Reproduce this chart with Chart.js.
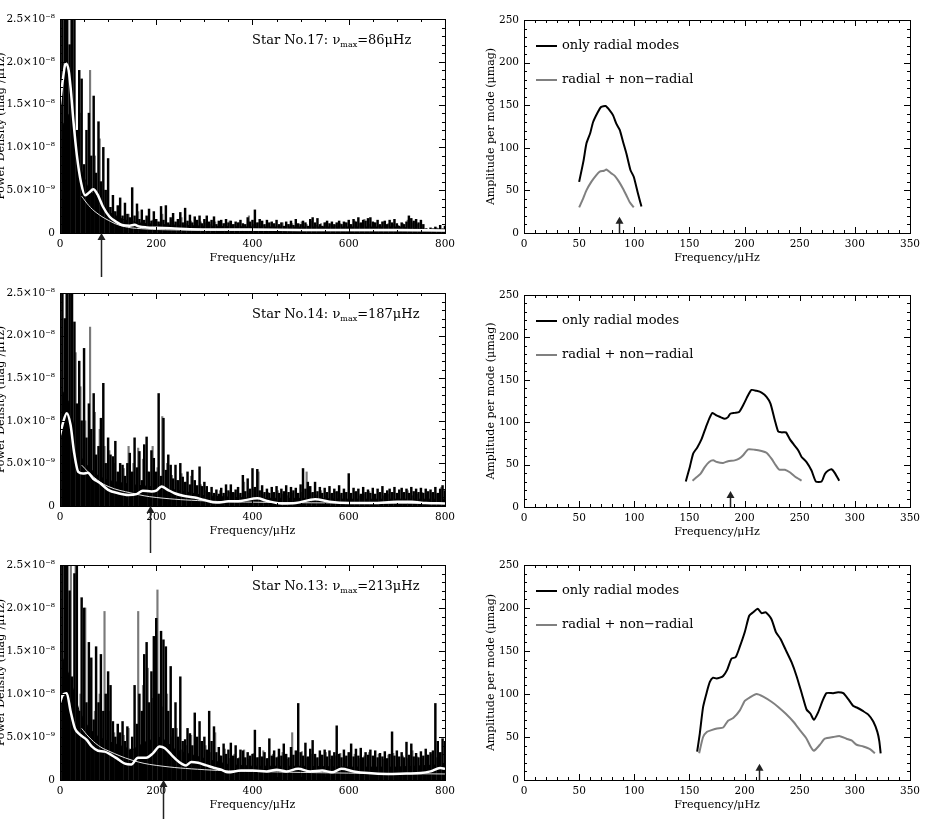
<!DOCTYPE html>
<html>
<head>
<meta charset="utf-8">
<script src="https://cdn.jsdelivr.net/npm/chart.js@4/dist/chart.umd.min.js"></script>
<style>
  html, body { margin: 0; background: #fff; width: 926px; height: 819px; overflow: hidden; position: relative; }
  canvas { position: absolute; }
</style>
</head>
<body>
<canvas id="spec17"></canvas>
<canvas id="spec14"></canvas>
<canvas id="spec13"></canvas>
<canvas id="amp17"></canvas>
<canvas id="amp14"></canvas>
<canvas id="amp13"></canvas>
<script>
// power density in units of 1e-9 mag^2/uHz
const spikeFreq = Array.from({ length: 161 }, (_, i) => i * 5);
const greyFreq = Array.from({ length: 80 }, (_, i) => 2.5 + i * 10);

const star17Black = [
  16, 30, 26, 30, 22, 30, 30, 12, 19, 18,
  8, 12, 14, 9, 16, 7, 13, 6, 10, 5,
  8.7, 3, 4.4, 2.5, 3.2, 4.1, 2, 3.5, 2.2, 1.8,
  5.3, 2, 3.4, 1.6, 2.7, 1.5, 2, 2.8, 1.4, 2.5,
  1.6, 1.3, 3.1, 1.5, 3.2, 1.2, 1.8, 2.3, 1.3, 1.6,
  2.4, 1.2, 2.9, 1.4, 2.1, 1.2, 1.9, 1.5, 2, 1.1,
  1.6, 2, 1.3, 1.5, 1.9, 1, 1.4, 1.5, 1.1, 1.6,
  1.2, 1.4, 1, 1.3, 1.2, 1.5, 1.1, 1, 1.8, 1.3,
  1.5, 2.7, 1.2, 1.6, 1.4, 1, 1.5, 1.2, 1.3, 1.1,
  1.5, 1, 1.2, 0.8, 1.3, 1, 1.4, 0.9, 1.6, 1.1,
  1, 1.4, 1.2, 0.8, 1.6, 1.8, 1.2, 1.7, 1, 0.8,
  1.2, 1.4, 1.1, 1.3, 1, 1.2, 1.4, 1, 1.3, 1.2,
  1.5, 1, 1.6, 1.3, 1.8, 1.2, 1.5, 1.4, 1.7, 1.8,
  1.3, 1.2, 1.5, 1, 1.3, 1.4, 1, 1.5, 1.2, 1.6,
  1.1, 0.8, 1.2, 1, 1.3, 2, 1.7, 1.4, 1.6, 1.2,
  1.5, 1, 0.5, 0.4, 0.6, 0.5, 0.7, 0.5, 0.9, 0.5,
  0.8
];
const star17Grey = [
  28, 30, 25, 10, 14, 6, 19, 9, 11, 5,
  3, 2.5, 2, 1.5, 2.2, 1.4, 2.5, 1.2, 1.8, 1.5,
  1.3, 2.2, 1, 1.5, 1.2, 1.8, 1.1, 1.4, 1, 1.3,
  1.2, 1, 1.3, 0.9, 1.1, 1.4, 1, 1.2, 0.9, 2,
  1, 1.2, 0.9, 1.1, 1, 0.8, 1.2, 1, 1.1, 0.9,
  1.3, 1, 1.4, 0.9, 1.1, 1.2, 1, 0.9, 1.1, 1.2,
  1, 1.4, 1.1, 1.6, 1, 1.2, 0.9, 1.3, 1.1, 1,
  0.9, 1.1, 1.5, 1.2, 1, 0.4, 0.5, 0.3, 0.6, 0.4
];
const star17Floor = [[0, 12], [20, 14], [40, 8], [60, 5], [80, 4], [100, 2.5], [130, 1.6], [160, 1.2],
  [200, 1], [300, 0.8], [400, 0.7], [500, 0.7], [600, 0.7], [700, 0.7], [760, 0.4], [800, 0.4]];
const star17Smooth = [[0, 15], [5, 17.5], [12, 19.8], [18, 19], [22, 17], [28, 13], [35, 9.1], [44, 5.8],
  [52, 4.4], [60, 4.7], [69, 5.1], [78, 4.5], [89, 3.1], [103, 1.9], [117, 1.3], [131, 0.9], [145, 0.85],
  [155, 0.95], [165, 0.75], [180, 0.65], [200, 0.6], [230, 0.55], [270, 0.45], [320, 0.4], [400, 0.4],
  [500, 0.35], [600, 0.35], [700, 0.35], [800, 0.3]];
const star17Background = [[45, 4.3], [60, 3.2], [75, 2.4], [100, 1.5], [130, 0.8], [170, 0.5], [250, 0.35],
  [400, 0.3], [800, 0.25]];

const star14Black = [
  30, 30, 22, 30, 28, 30, 21.6, 12, 17, 10,
  18.5, 8, 12, 9, 13.2, 6, 7, 10.3, 14.4, 5,
  8, 6, 5.8, 7.6, 4, 5, 4.8, 3.5, 5, 6.2,
  4, 8, 4.5, 6.4, 3, 7.2, 8.1, 4, 6.5, 5.6,
  4, 13.2, 3.5, 10.3, 4.2, 6, 4.8, 3.2, 4.8, 3,
  5, 3.4, 2.8, 4, 2.5, 4.2, 3, 2.4, 4.6, 2.3,
  2.8, 2.3, 1.6, 2.2, 1.5, 1.9, 1.4, 2.1, 1.5, 2.5,
  1.8, 2.5, 1.6, 1.9, 2.2, 1.5, 3.6, 1.7, 3.2, 2,
  4.4, 2.2, 4.3, 1.8, 2.4, 1.6, 2, 1.5, 2.2, 1.6,
  2.3, 1.5, 2, 1.7, 2.4, 1.6, 2.2, 1.8, 2.1, 1.5,
  2.5, 4.4, 2, 2.8, 2.3, 1.6, 2.8, 1.7, 2.2, 1.5,
  2.1, 1.6, 2.3, 1.5, 2, 1.7, 2.4, 1.5, 2, 1.6,
  3.8, 1.5, 2.1, 1.7, 2, 1.4, 2.2, 1.6, 1.9, 1.5,
  2.1, 1.4, 2, 1.6, 2.3, 1.5, 1.8, 2, 1.6, 2.2,
  1.5, 1.9, 2.1, 1.6, 2, 1.5, 2.2, 1.7, 2, 1.6,
  2.1, 1.5, 2, 1.7, 1.9, 1.6, 2.2, 1.5, 2, 2.4,
  1.8
];
const star14Grey = [
  30, 30, 25, 18, 14, 10, 21, 11, 9, 7,
  6.5, 5, 3.5, 4.4, 7, 5, 6.8, 5.5, 4, 7,
  4.5, 10.5, 5, 3.6, 3, 3.8, 2.8, 3.5, 2.2, 2.5,
  1.8, 1.5, 1.3, 1.8, 1.2, 1.6, 1.5, 1.3, 2.8, 1.5,
  2, 4, 1.4, 1.6, 1.3, 1.8, 1.4, 1.2, 1.5, 1.3,
  1.6, 4, 1.5, 1.3, 1.8, 1.2, 1.4, 1.6, 1.3, 1.5,
  1.3, 1.6, 1.2, 1.4, 1.7, 1.3, 1.5, 1.2, 1.4, 1.6,
  1.3, 1.5, 1.8, 1.2, 1.4, 1.6, 1.3, 1.5, 1.4, 2.2
];
const star14Floor = [[0, 14], [20, 12], [40, 6], [60, 4.5], [80, 3.5], [100, 3], [150, 2.5], [200, 2.2],
  [250, 1.8], [300, 1.2], [400, 0.9], [500, 0.9], [600, 0.8], [700, 0.8], [800, 0.8]];
const star14Smooth = [[0, 8.3], [5, 9.5], [14, 10.9], [22, 9.5], [29, 6.4], [38, 4], [48, 3.8], [58, 3.9],
  [69, 3.2], [83, 2.7], [100, 1.9], [121, 1.5], [142, 1.3], [159, 1.4], [172, 1.8], [190, 1.7], [200, 1.8],
  [211, 2.3], [224, 1.9], [238, 1.5], [256, 1.2], [280, 1], [300, 0.7], [325, 0.4], [350, 0.55], [376, 0.6],
  [410, 0.9], [430, 0.6], [460, 0.3], [490, 0.35], [530, 0.8], [560, 0.5], [600, 0.35], [650, 0.35],
  [700, 0.5], [730, 0.5], [760, 0.35], [800, 0.3]];
const star14Background = [[45, 4.8], [70, 3.4], [100, 2.3], [150, 1.5], [200, 1], [300, 0.6], [400, 0.45],
  [600, 0.35], [800, 0.3]];

const star13Black = [
  30, 30, 30, 30, 22, 12, 24, 30, 8, 21.2,
  20, 9, 16, 14.2, 7, 15.5, 9, 14.6, 8, 10,
  12.6, 11, 6.8, 5, 6.5, 5.5, 6.8, 4.5, 6.2, 3.5,
  5, 11, 6.5, 10, 8, 14.6, 16, 9, 12.6, 16.7,
  18.8, 10, 17.3, 16.3, 15.5, 8, 13.2, 6, 9, 5,
  12, 4.5, 4.7, 6, 5.4, 4, 7.8, 5, 6.8, 4.5,
  5, 3.5, 8, 4.5, 6.2, 3.2, 3.8, 2.8, 4.2, 3,
  3.5, 4.3, 2.8, 4, 2.5, 3.5, 3.4, 2.6, 3.2, 2.8,
  3, 5.8, 2.6, 3.8, 2.7, 3.2, 2.5, 4.8, 2.8, 3.4,
  2.6, 3.6, 2.8, 4.2, 3, 2.6, 3.8, 2.9, 3.4, 8.9,
  3.2, 2.8, 4.3, 2.7, 3.6, 4.6, 3, 2.6, 3.4, 2.9,
  3.5, 2.7, 3.4, 2.8, 3.2, 6.3, 3, 2.6, 3.5, 2.8,
  3.2, 4.2, 2.7, 3.6, 2.8, 3.7, 2.6, 3.2, 2.9, 3.5,
  2.8, 3.4, 2.6, 3.1, 2.7, 3.3, 2.5, 3, 5.6, 2.8,
  3.4, 2.7, 3.2, 2.6, 4.4, 2.9, 4.2, 2.7, 3.1, 2.6,
  3.3, 2.8, 3.6, 2.9, 3.2, 3.4, 8.9, 4.5, 3.2, 4.8,
  4.5
];
const star13Grey = [
  30, 30, 26, 30, 10, 20, 12, 8, 10, 19.6,
  8, 5.5, 4.5, 5.2, 6, 3.5, 19.6, 11, 13, 9.5,
  22.1, 8.5, 10, 5, 6, 3.5, 4, 5.2, 3.2, 4.5,
  4, 3.2, 5.5, 2.8, 3.6, 2.5, 3, 2.6, 3.5, 2.4,
  3.1, 2.6, 3.4, 2.5, 3, 2.7, 3.2, 2.4, 5.5, 2.8,
  3.3, 2.6, 3, 2.5, 2.9, 3.2, 2.4, 2.8, 3.1, 2.6,
  2.7, 3, 2.5, 2.8, 3.2, 2.5, 3, 2.4, 2.9, 3.1,
  2.6, 2.8, 2.5, 3.4, 2.7, 2.5, 2.9, 3, 2.6, 3.2
];
const star13Floor = [[0, 15], [20, 12], [40, 8], [60, 6], [80, 5], [100, 4.5], [150, 3.5], [180, 4.5],
  [210, 5], [240, 3.5], [300, 2.5], [350, 1.8], [400, 1.6], [500, 1.6], [600, 1.5], [700, 1.5], [800, 1.8]];
const star13Smooth = [[0, 9], [5, 9.8], [14, 10.1], [22, 8], [31, 6], [41, 5.3], [55, 4.7], [66, 3.9],
  [79, 3.4], [93, 3.3], [107, 2.9], [121, 2.4], [135, 1.9], [148, 1.8], [162, 2.6], [179, 2.6], [193, 3.1],
  [207, 3.9], [218, 3.7], [232, 2.9], [245, 2.2], [262, 1.7], [273, 2.1], [287, 2], [304, 1.7], [321, 1.4],
  [335, 1.2], [349, 0.9], [376, 1.1], [400, 1.1], [430, 1], [450, 1.2], [470, 1], [495, 1.3], [520, 1],
  [545, 1.1], [565, 0.9], [585, 1.3], [610, 1], [640, 0.8], [680, 0.7], [720, 0.75], [750, 0.8], [770, 1],
  [790, 1.4], [800, 1.3]];
const star13Background = [[45, 6], [60, 5], [80, 4], [100, 3.4], [150, 2.3], [200, 1.7], [300, 1.2],
  [400, 1], [600, 0.8], [800, 0.7]];

// amplitude per mode (umag) vs frequency (uHz)
const star17Radial = [[50, 60], [54, 85], [56.6, 105], [60, 117], [62.6, 130], [67, 142], [70, 148], [74, 149],
  [77.7, 144], [80.8, 138], [83.8, 128], [86.8, 121], [89.8, 107], [92.9, 93], [96.5, 74], [99.5, 66],
  [103.4, 46], [106.5, 31]];
const star17Mixed = [[50, 30], [53.5, 40], [56.6, 50], [61, 60], [65.6, 68], [68.7, 72], [72.6, 73], [74.7, 74.5],
  [79.2, 70], [82.3, 67], [86.2, 60], [89.8, 52], [92.9, 44], [95.9, 36], [99.5, 30]];
const star14Radial = [[146.7, 30], [150.3, 47], [153.4, 63], [157, 70], [161, 80], [164.9, 94], [167.9, 104],
  [170.9, 111], [174.5, 108], [178.2, 106], [182, 104], [185, 106], [187, 110], [191, 111], [195, 112],
  [198.7, 120], [203.3, 132], [206.3, 138], [210.8, 137], [215.4, 135], [219.9, 130], [223.5, 122],
  [227.5, 102], [230.5, 89], [233.5, 88], [237.5, 88], [241, 80], [245, 73], [248.6, 67], [251.7, 59],
  [256.2, 53], [260.7, 43], [264.7, 30], [269.8, 30], [272.8, 39], [275.9, 43], [278.9, 44.5], [281.9, 40],
  [285.8, 31]];
const star14Mixed = [[152.8, 31], [156.4, 35], [160, 39], [163.9, 47], [167.9, 53], [171.5, 55], [175, 53],
  [180.6, 52], [185, 54], [191, 55], [195, 57], [198.7, 61], [203.3, 68], [209.3, 67.5], [215.4, 66],
  [219.9, 64], [224.4, 57], [228.4, 49], [231.4, 44], [236.5, 44], [241, 41], [245.6, 36], [251.7, 31]];
const star13Radial = [[157, 33], [159.4, 54], [162.4, 85], [165.5, 101], [168.5, 114], [171.5, 119],
  [174.5, 118], [177.6, 119], [180.6, 121], [184.2, 128], [188.1, 141], [192, 143], [195.7, 155],
  [200.2, 172], [204.2, 191], [207.8, 195], [212, 199], [215.4, 194], [219.3, 195], [224.4, 187],
  [228.4, 172], [232.6, 164], [237.4, 151], [242.6, 137], [247.1, 121], [252, 100], [256.2, 82],
  [259.8, 77], [262.8, 70], [266.8, 79], [270.7, 92], [274.3, 101], [280.4, 101], [284.9, 102],
  [289.5, 101], [294, 94], [298.6, 86], [302.2, 84], [307.6, 80], [312.2, 76], [316.7, 68], [320.4, 56],
  [322.2, 45], [323.4, 31]];
const star13Mixed = [[158.8, 31], [162.4, 50], [166, 56], [170, 58], [175, 60], [180.6, 61], [185, 69],
  [189.7, 72], [195.7, 81], [200.2, 92], [204.8, 96], [210.8, 100], [216.9, 97], [224.4, 91], [230.5, 85],
  [237.4, 77], [244.1, 68], [250.1, 58], [256.2, 48], [259.8, 39], [262.8, 34], [268.3, 41], [272.8, 48],
  [280.4, 50], [286.4, 51], [292.4, 48], [297, 46], [301.6, 41], [307.6, 39], [313.7, 36], [318.2, 31]];

const powerTickLabels = { 0: "0", 5: "5.0×10⁻⁹", 10: "1.0×10⁻⁸", 15: "1.5×10⁻⁸", 20: "2.0×10⁻⁸", 25: "2.5×10⁻⁸" };

const tickFont = { family: "'DejaVu Serif', serif", size: 10.5 };
const titleFont = { family: "'DejaVu Serif', serif", size: 11 };
const textFont = "'DejaVu Serif', serif";

// box with inward IDL-style major/minor ticks on all four sides
const idlFrame = {
  id: "idlFrame",
  afterDatasetsDraw(chart) {
    const { ctx, chartArea: a, scales: { x, y } } = chart;
    ctx.save();
    ctx.strokeStyle = "#000";
    ctx.lineWidth = 1;
    ctx.strokeRect(a.left + 0.5, a.top + 0.5, a.right - a.left, a.bottom - a.top);
    ctx.beginPath();
    x.ticks.forEach((t) => {
      const px = Math.round(x.getPixelForValue(t.value)) + 0.5;
      const len = t.label ? 6 : 3;
      ctx.moveTo(px, a.bottom); ctx.lineTo(px, a.bottom - len);
      ctx.moveTo(px, a.top); ctx.lineTo(px, a.top + len);
    });
    y.ticks.forEach((t) => {
      const py = Math.round(y.getPixelForValue(t.value)) + 0.5;
      const len = t.label ? 6 : 3;
      ctx.moveTo(a.left, py); ctx.lineTo(a.left + len, py);
      ctx.moveTo(a.right, py); ctx.lineTo(a.right - len, py);
    });
    ctx.stroke();
    ctx.restore();
  },
};

function arrowUp(ctx, x, tip, base, color) {
  ctx.strokeStyle = color;
  ctx.fillStyle = color;
  ctx.lineWidth = 1.5;
  ctx.beginPath();
  ctx.moveTo(x, base);
  ctx.lineTo(x, tip + 5);
  ctx.stroke();
  ctx.beginPath();
  ctx.moveTo(x, tip);
  ctx.lineTo(x - 4, tip + 7);
  ctx.lineTo(x + 4, tip + 7);
  ctx.closePath();
  ctx.fill();
}

const starNote = {
  id: "starNote",
  afterDraw(chart, args, opts) {
    const { ctx, chartArea: a, scales: { x } } = chart;
    ctx.save();
    const px = Math.round(x.getPixelForValue(opts.numax)) + 0.5;
    arrowUp(ctx, px, a.bottom, a.bottom + opts.arrow, "#222");
    ctx.fillStyle = "#000";
    ctx.textBaseline = "middle";
    let tx = a.left + 192;
    const ty = a.top + 22;
    ctx.font = "13px " + textFont;
    const head = "Star No." + opts.star + ": ν";
    ctx.fillText(head, tx, ty);
    tx += ctx.measureText(head).width;
    ctx.font = "8px " + textFont;
    ctx.fillText("max", tx, ty + 4);
    tx += ctx.measureText("max").width;
    ctx.font = "13px " + textFont;
    ctx.fillText("=" + opts.numax + "μHz", tx, ty);
    ctx.restore();
  },
};

const modeLegend = {
  id: "modeLegend",
  afterDraw(chart, args, opts) {
    const { ctx, chartArea: a, scales: { x, y } } = chart;
    ctx.save();
    const px = Math.round(x.getPixelForValue(opts.numax)) + 0.5;
    arrowUp(ctx, px, y.getPixelForValue(19), a.bottom, "#222");
    const rows = [["only radial modes", "#000", 26], ["radial + non−radial", "#808080", 60]];
    ctx.font = "13px " + textFont;
    ctx.textBaseline = "middle";
    rows.forEach(([label, color, dy]) => {
      ctx.strokeStyle = color;
      ctx.lineWidth = 2;
      ctx.beginPath();
      ctx.moveTo(a.left + 12, a.top + dy);
      ctx.lineTo(a.left + 33, a.top + dy);
      ctx.stroke();
      ctx.fillStyle = "#000";
      ctx.fillText(label, a.left + 38, a.top + dy);
    });
    ctx.restore();
  },
};

function place(id, box) {
  const el = document.getElementById(id);
  el.width = box.w;
  el.height = box.h;
  el.style.left = box.x + "px";
  el.style.top = box.y + "px";
  return el;
}

function padding(box) {
  const [left, top, right, bottom] = box.area;
  return { top: top - box.y, right: box.x + box.w - right, bottom: box.y + box.h - bottom - 32, left: 0 };
}

const noGrid = { display: false, drawTicks: false, tickLength: 0 };

function spectrumChart(id, box, star, numax, black, grey, floor, smooth, background) {
  const el = place(id, box);
  const pts = (f, v) => f.map((fr, i) => ({ x: fr, y: v[i] }));
  const xy = (pairs) => pairs.map(([fx, vy]) => ({ x: fx, y: vy }));
  new Chart(el, {
    type: "bar",
    data: {
      datasets: [
        { type: "line", data: xy(smooth), borderColor: "#fff", borderWidth: 2.5, pointRadius: 0, tension: 0.4, cubicInterpolationMode: "monotone", order: 0 },
        { type: "line", data: xy(background), borderColor: "#e0e0e0", borderWidth: 1, pointRadius: 0, tension: 0.4, order: 1 },
        { data: pts(spikeFreq, black), backgroundColor: "#000", barThickness: 1.8, grouped: false, order: 2 },
        { data: pts(greyFreq, grey), backgroundColor: "#7a7a7a", barThickness: 1.5, grouped: false, order: 3 },
        { type: "line", data: xy(floor), borderColor: "#000", borderWidth: 1, backgroundColor: "#000", fill: "origin", pointRadius: 0, order: 4 },
      ],
    },
    options: {
      responsive: false,
      animation: false,
      layout: { padding: padding(box) },
      plugins: { legend: { display: false }, tooltip: { enabled: false }, starNote: { star, numax, arrow: box.arrow } },
      scales: {
        x: {
          type: "linear", min: 0, max: 800, offset: false,
          grid: noGrid, border: { display: false },
          ticks: { stepSize: 50, autoSkip: false, maxRotation: 0, padding: 5, color: "#000", font: tickFont,
            callback: (v) => (v % 200 === 0 ? String(v) : "") },
          title: { display: true, text: "Frequency/μHz", color: "#000", font: titleFont, padding: { top: 0, bottom: 0 } },
          afterFit(s) { s.height = 32; },
        },
        y: {
          min: 0, max: 25,
          grid: noGrid, border: { display: false },
          ticks: { stepSize: 1, autoSkip: false, padding: 5, color: "#000", font: tickFont,
            callback: (v) => powerTickLabels[v] ?? "" },
          title: { display: true, text: "Power Density (mag²/μHz)", color: "#000", font: titleFont, padding: { top: 5, bottom: 0 } },
          afterFit(s) { s.width = box.area[0] - box.x; },
        },
      },
    },
    plugins: [idlFrame, starNote],
  });
}

function amplitudeChart(id, box, numax, radial, mixed) {
  const el = place(id, box);
  const xy = (pairs) => pairs.map(([fx, vy]) => ({ x: fx, y: vy }));
  new Chart(el, {
    type: "line",
    data: {
      datasets: [
        { data: xy(radial), borderColor: "#000", borderWidth: 2, pointRadius: 0, tension: 0.2 },
        { data: xy(mixed), borderColor: "#808080", borderWidth: 2, pointRadius: 0, tension: 0.2 },
      ],
    },
    options: {
      responsive: false,
      animation: false,
      layout: { padding: padding(box) },
      plugins: { legend: { display: false }, tooltip: { enabled: false }, modeLegend: { numax } },
      scales: {
        x: {
          type: "linear", min: 0, max: 350,
          grid: noGrid, border: { display: false },
          ticks: { stepSize: 10, autoSkip: false, maxRotation: 0, padding: 5, color: "#000", font: tickFont,
            callback: (v) => (v % 50 === 0 ? String(v) : "") },
          title: { display: true, text: "Frequency/μHz", color: "#000", font: titleFont, padding: { top: 0, bottom: 0 } },
          afterFit(s) { s.height = 32; },
        },
        y: {
          min: 0, max: 250,
          grid: noGrid, border: { display: false },
          ticks: { stepSize: 10, autoSkip: false, padding: 5, color: "#000", font: tickFont,
            callback: (v) => (v % 50 === 0 ? String(v) : "") },
          title: { display: true, text: "Amplitude per mode (μmag)", color: "#000", font: titleFont, padding: { top: 25, bottom: 0 } },
          afterFit(s) { s.width = box.area[0] - box.x; },
        },
      },
    },
    plugins: [idlFrame, modeLegend],
  });
}

spectrumChart("spec17", { x: -10, y: 0, w: 470, h: 280, area: [60, 19, 446, 233], arrow: 44 },
  17, 86, star17Black, star17Grey, star17Floor, star17Smooth, star17Background);
spectrumChart("spec14", { x: -10, y: 275, w: 470, h: 280, area: [60, 293, 446, 506], arrow: 47 },
  14, 187, star14Black, star14Grey, star14Floor, star14Smooth, star14Background);
spectrumChart("spec13", { x: -10, y: 545, w: 470, h: 274, area: [60, 565, 446, 780], arrow: 40 },
  13, 213, star13Black, star13Grey, star13Floor, star13Smooth, star13Background);

amplitudeChart("amp17", { x: 460, y: 0, w: 466, h: 280, area: [524, 20, 910, 233] }, 86, star17Radial, star17Mixed);
amplitudeChart("amp14", { x: 460, y: 275, w: 466, h: 280, area: [524, 295, 910, 507] }, 187, star14Radial, star14Mixed);
amplitudeChart("amp13", { x: 460, y: 545, w: 466, h: 274, area: [524, 565, 910, 780] }, 213, star13Radial, star13Mixed);
</script>
</body>
</html>
